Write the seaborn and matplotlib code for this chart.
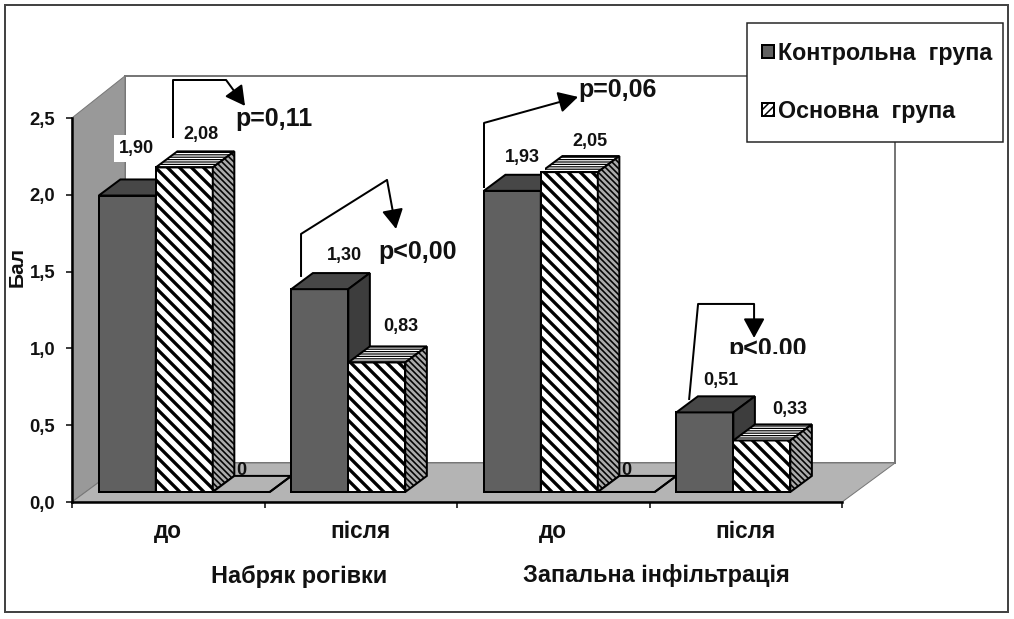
import pandas as pd
import matplotlib.pyplot as plt
import seaborn as sns
from matplotlib.patches import Patch, Polygon, Rectangle

# chart values
groups = ['Набряк до', 'Набряк після', 'Інфільтрація до', 'Інфільтрація після']
tick_labels = ['до', 'після', 'до', 'після']
series = ['Контрольна група', 'Основна група', 'Порожньо']
control = [1.90, 1.30, 1.93, 0.51]
main_group = [2.08, 0.83, 2.05, 0.33]
empty = [0, None, 0, None]
y_ticks = [0.0, 0.5, 1.0, 1.5, 2.0, 2.5]

W, H = 1014, 619
DARK = '#606060'
FLOOR = '#b4b4b4'
WALL = '#999999'
EDGE = '#777777'
INK = '#111111'

sns.set_theme(style='white')
plt.rcParams['font.family'] = ['Liberation Sans', 'DejaVu Sans']
plt.rcParams['hatch.linewidth'] = 3.3
plt.rcParams['hatch.color'] = 'black'

df = pd.DataFrame({
    'group': groups * 3,
    'series': [series[0]] * 4 + [series[1]] * 4 + [series[2]] * 4,
    'value': control + main_group + empty,
}).dropna()
df['group'] = pd.Categorical(df['group'], categories=groups)

fig = plt.figure(figsize=((W + 0.1) / 72, (H + 0.1) / 72), dpi=72, facecolor='white')


def box(x0, y0, x1, y1):
    # pixel box (y from top) to figure fractions
    return [x0 / W, 1 - y1 / H, (x1 - x0) / W, (y1 - y0) / H]


def pixel_axes(z):
    a = fig.add_axes([0, 0, 1, 1], zorder=z)
    a.set_xlim(0, W)
    a.set_ylim(H, 0)
    a.axis('off')
    return a


# back walls and floor
back = pixel_axes(0)
back.add_patch(Polygon([(125, 76), (895, 76), (895, 463), (125, 463)], fc='white', ec=EDGE, lw=2))
back.add_patch(Polygon([(72, 118), (125, 76), (125, 463), (72, 502)], fc=WALL, ec=EDGE, lw=1))
back.add_patch(Polygon([(125, 463), (895, 463), (842, 502), (72, 502)], fc=FLOOR, ec=EDGE, lw=1))
back.add_patch(Rectangle((5, 5), 1003, 607, fc='none', ec='#444444', lw=2))

# axis with ticks
ax = fig.add_axes(box(72, 118, 842, 502), zorder=1)
ax.patch.set_alpha(0)
ax.set_xlim(0, 4)
ax.set_ylim(0, 2.5)
for s in ['top', 'right']:
    ax.spines[s].set_visible(False)
for s in ['left', 'bottom']:
    ax.spines[s].set_linewidth(2.5)
    ax.spines[s].set_color('black')
ax.set_yticks(y_ticks)
ax.set_yticklabels([f'{v:.1f}'.replace('.', ',') for v in y_ticks], fontsize=18.5, fontweight='bold', color=INK)
ax.set_xticks([0, 1, 2, 3, 4])
ax.set_xticklabels([])
ax.set_xticks([0.5, 1.5, 2.5, 3.5], minor=True)
ax.set_xticklabels(tick_labels, minor=True, fontsize=22.5, fontweight='bold', color=INK)
ax.tick_params(axis='both', which='major', length=6, width=1.5, color='black', left=True, bottom=True, pad=11)
ax.tick_params(axis='x', which='minor', length=0, pad=18)
ax.set_ylabel('Бал', fontsize=21, fontweight='bold', color=INK)
ax.yaxis.set_label_coords(-45 / 770, 235 / 384)

# bars
bars = fig.add_axes(box(88, 102, 858, 492), zorder=2)
bars.patch.set_alpha(0)
sns.barplot(data=df, x='group', y='value', hue='series', hue_order=series,
            palette=[DARK, 'white', FLOOR], saturation=1, width=0.888, gap=0,
            edgecolor='black', linewidth=2, legend=False, ax=bars)
bars.set_xlim(-0.5, 3.5)
bars.set_ylim(0, 2.5)
bars.axis('off')

DEPTH_X = 0.112
DEPTH_Y = 0.103
top_style = [dict(fc='#474747'), dict(fc='white', hatch='-----'), dict(fc=FLOOR)]
side_style = [dict(fc='#3d3d3d'), dict(fc='#aaaaaa', hatch='\\\\\\\\'), dict(fc=FLOOR)]

labels = []
for i, cont in enumerate(bars.containers):
    for p in cont.patches:
        x0, w, h = p.get_x(), p.get_width(), p.get_height()
        z = 3 + p.get_x()
        p.set_zorder(z)
        p.set_clip_on(False)
        if i == 1:
            p.set_hatch('\\\\')
        top = Polygon([(x0, h), (x0 + w, h), (x0 + w + DEPTH_X, h + DEPTH_Y), (x0 + DEPTH_X, h + DEPTH_Y)],
                      ec='black', lw=2, zorder=z, clip_on=False, **top_style[i])
        side = Polygon([(x0 + w, 0), (x0 + w + DEPTH_X, DEPTH_Y), (x0 + w + DEPTH_X, h + DEPTH_Y), (x0 + w, h)],
                       ec='black', lw=2, zorder=z, clip_on=False, **side_style[i])
        if i == 1:
            top.set_hatch_linewidth(1.2)
            side.set_hatch_linewidth(1.6)
        bars.add_patch(top)
        bars.add_patch(side)
        labels.append((x0 + w / 2, h, i))

# label offsets from bar centre and top, pixels
label_shift = {
    (0, 0): (9, 47), (1, 0): (25, 34), (2, 0): (10, 33), (3, 0): (16, 32),
    (0, 1): (17, 33), (1, 1): (24, 36), (2, 1): (21, 31), (3, 1): (28, 31),
}
for x, h, i in labels:
    if i == 2:
        bars.annotate('0', (x, h), xytext=(0, 22), textcoords='offset points', ha='center', va='center',
                      fontsize=18, fontweight='bold', color=INK, zorder=20, annotation_clip=False)
        continue
    g = round(x + 0.296 * (1 - i))
    dx, dy = label_shift[(g, i)]
    bars.annotate(f'{h:.2f}'.replace('.', ','), (x, h), xytext=(dx, dy), textcoords='offset points',
                  ha='center', va='center', fontsize=18, fontweight='bold', color=INK, zorder=20,
                  annotation_clip=False, bbox=dict(fc='white', ec='none', pad=5))

# annotations on top
front = pixel_axes(5)


def bent_arrow(points):
    xs, ys = zip(*points[:-1])
    front.plot(xs, ys, color='black', lw=2, solid_capstyle='butt')
    front.annotate('', xy=points[-1], xytext=points[-2],
                   arrowprops=dict(arrowstyle='-|>,head_width=0.6,head_length=1.1', color='black', lw=2,
                                   shrinkA=0, shrinkB=0, mutation_scale=15))


bent_arrow([(173, 138), (173, 80), (226, 80), (245, 106)])
bent_arrow([(301, 277), (301, 234), (387, 180), (396, 229)])
bent_arrow([(484, 188), (484, 123), (578, 97)])
bent_arrow([(689, 400), (698, 304), (754, 304), (754, 338)])

p_text = dict(fontsize=25, fontweight='bold', color=INK, ha='left', va='baseline')
front.text(235, 126, 'p=0,11', **p_text)
front.text(378, 259, 'p<0,00', **p_text)
front.text(578, 97, 'p=0,06', **p_text)
t = front.text(728, 356, 'p<0,00', **p_text)
t.set_clip_path(Rectangle((700, 330), 120, 24, transform=front.transData))
t.set_clip_on(True)

front.text(299, 576, 'Набряк рогівки', fontsize=23.5, fontweight='bold', color=INK, ha='center', va='center')
front.text(656, 575, 'Запальна інфільтрація', fontsize=23.5, fontweight='bold', color=INK, ha='center', va='center')

# legend
front.add_patch(Rectangle((747, 23), 256, 119, fc='white', ec='#222222', lw=1.5, zorder=10))
handles = [Patch(fc=DARK, ec='black', lw=2), Patch(fc='white', ec='black', lw=2, hatch='///')]
leg = front.legend(handles, ['Контрольна  група', 'Основна  група'], loc='upper left',
                   bbox_to_anchor=(762, 42), bbox_transform=front.transData, frameon=False,
                   prop=dict(family='Liberation Sans', weight='bold', size=23.3),
                   handlelength=0.5, handleheight=0.5, handletextpad=0.2, labelspacing=1.5,
                   borderpad=0, borderaxespad=0)
leg.set_zorder(11)
leg.legend_handles[1].set_hatch_linewidth(1.5)
for text in leg.get_texts():
    text.set_color(INK)

fig.savefig('out.png', dpi=72)
